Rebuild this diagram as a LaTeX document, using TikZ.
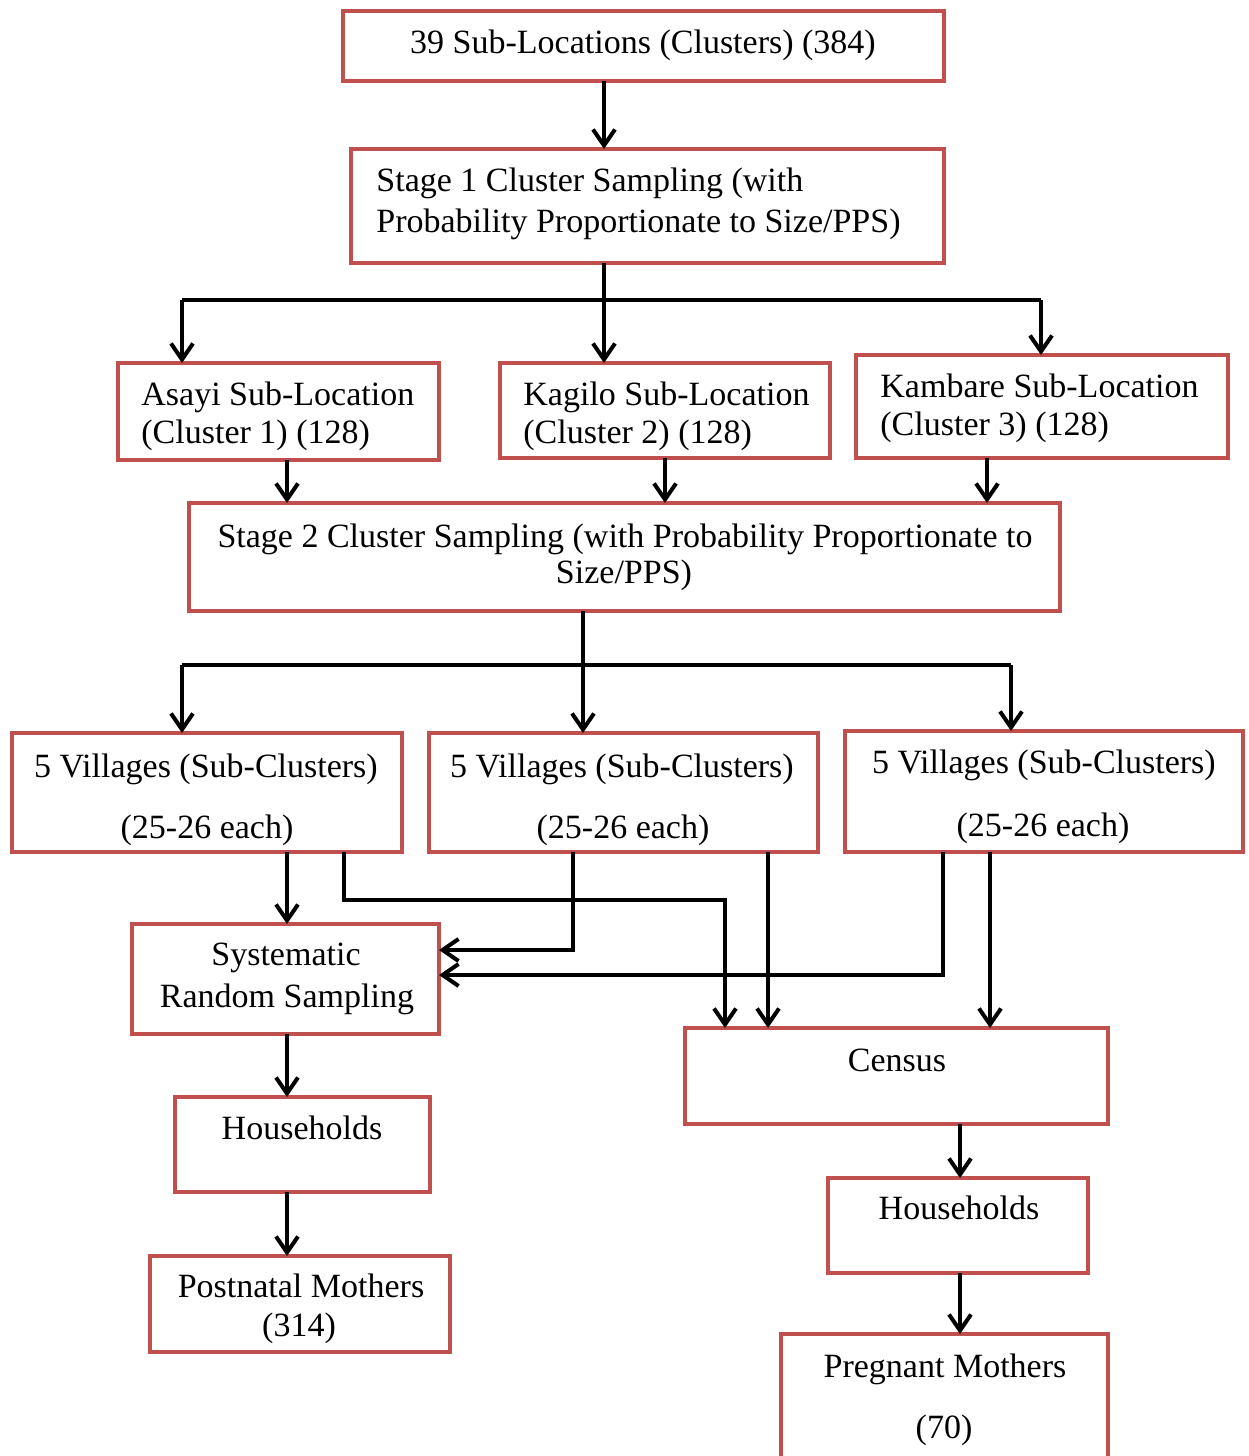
\documentclass[tikz,border=0pt]{standalone}
\usepackage{fontspec}
\setmainfont{Liberation Serif}
\usetikzlibrary{arrows.meta,fit}
\definecolor{bred}{RGB}{192,80,77}
\begin{document}
\begin{tikzpicture}[x=0.5pt,y=-0.5pt,
 box/.style={draw=bred,line width=2pt,inner sep=0pt,outer sep=0pt,fill=white},
 txt/.style={font=\fontsize{17}{20}\selectfont,inner sep=0pt,anchor=base},
 txtl/.style={txt,anchor=base west},
 arr/.style={line width=1.8pt,-{Straight Barb[length=8pt,width=11pt,line width=2pt]}},
 ln/.style={line width=1.8pt},
 bar/.style={line width=2.4pt}]
\useasboundingbox (0,0) rectangle (1248,1456);
% boxes
\node[box, fit={(343,11)(944,81)}] (b1) {};
\node[box, fit={(351,149)(944,263)}] (s1) {};
\node[box, fit={(118,363)(439,460)}] (asayi) {};
\node[box, fit={(500,363)(830,458)}] (kagilo) {};
\node[box, fit={(856,355)(1228,458)}] (kambare) {};
\node[box, fit={(189,503)(1060,611)}] (s2) {};
\node[box, fit={(12,733)(402,852)}] (v1) {};
\node[box, fit={(429,733)(818,852)}] (v2) {};
\node[box, fit={(845,731)(1243,852)}] (v3) {};
\node[box, fit={(132,924)(439,1034)}] (sys) {};
\node[box, fit={(685,1028)(1108,1124)}] (census) {};
\node[box, fit={(175,1097)(430,1192)}] (hhl) {};
\node[box, fit={(150,1256)(450,1352)}] (post) {};
\node[box, fit={(828,1178)(1088,1273)}] (hhr) {};
\node[box, fit={(781,1334)(1108,1462)}] (preg) {};
% texts
\node[txt] (t1) at (643,53) {39 Sub-Locations (Clusters) (384)};
\node[txtl] (t2a) at (376,191) {Stage 1 Cluster Sampling (with};
\node[txtl] (t2b) at (376,232) {Probability Proportionate to Size/PPS)};
\node[txtl] (t3a) at (141,405) {Asayi Sub-Location};
\node[txtl] (t3b) at (141,443) {(Cluster 1) (128)};
\node[txtl] (t4a) at (523,405) {Kagilo Sub-Location};
\node[txtl] (t4b) at (523,443) {(Cluster 2) (128)};
\node[txtl] (t5a) at (880,397) {Kambare Sub-Location};
\node[txtl] (t5b) at (880,435) {(Cluster 3) (128)};
\node[txt] (t6a) at (625,547) {Stage 2 Cluster Sampling (with Probability Proportionate to};
\node[txt] (t6b) at (624,583) {Size/PPS)};
\node[txt] (t7a) at (206,777) {5 Villages (Sub-Clusters)};
\node[txt] (t7b) at (207,838) {(25-26 each)};
\node[txt] (t8a) at (622,777) {5 Villages (Sub-Clusters)};
\node[txt] (t8b) at (623,838) {(25-26 each)};
\node[txt] (t9a) at (1044,773) {5 Villages (Sub-Clusters)};
\node[txt] (t9b) at (1043,836) {(25-26 each)};
\node[txt] (t10a) at (286,965) {Systematic};
\node[txt] (t10b) at (287,1007) {Random Sampling};
\node[txt] (t11) at (897,1071) {Census};
\node[txt] (t12) at (302,1139) {Households};
\node[txt] (t13a) at (301,1297) {Postnatal Mothers};
\node[txt] (t13b) at (299,1336) {(314)};
\node[txt] (t14) at (959,1219) {Households};
\node[txt] (t15a) at (945,1377) {Pregnant Mothers};
\node[txt] (t15b) at (944,1438) {(70)};
% junction coordinates
\coordinate (j1) at (604,300);
\coordinate (j1l) at (182,300);
\coordinate (j1r) at (1041,300);
\coordinate (j2) at (583,665);
\coordinate (j2l) at (182,665);
\coordinate (j2r) at (1011,665);
% connectors
\draw[arr] (604,0 |- b1.south) -- (604,0 |- s1.north);
\draw[bar] (j1l) -- (j1r);
\draw[arr] (j1 |- s1.south) -- (j1 |- kagilo.north);
\draw[arr] (j1l) -- (j1l |- asayi.north);
\draw[arr] (j1r) -- (j1r |- kambare.north);
\draw[arr] (287,0 |- asayi.south) -- (287,0 |- s2.north);
\draw[arr] (665,0 |- kagilo.south) -- (665,0 |- s2.north);
\draw[arr] (987,0 |- kambare.south) -- (987,0 |- s2.north);
\draw[bar] (j2l) -- (j2r);
\draw[arr] (j2 |- s2.south) -- (j2 |- v2.north);
\draw[arr] (j2l) -- (j2l |- v1.north);
\draw[arr] (j2r) -- (j2r |- v3.north);
\draw[arr] (287,0 |- v1.south) -- (287,0 |- sys.north);
\draw[arr] (344,0 |- v1.south) -- (344,900) -- (725,900) -- (725,0 |- census.north);
\draw[arr] (573,0 |- v2.south) -- (573,950) -- (sys.east |- 0,950);
\draw[arr] (768,0 |- v2.south) -- (768,0 |- census.north);
\draw[arr] (943,0 |- v3.south) -- (943,975) -- (sys.east |- 0,975);
\draw[arr] (990,0 |- v3.south) -- (990,0 |- census.north);
\draw[arr] (287,0 |- sys.south) -- (287,0 |- hhl.north);
\draw[arr] (287,0 |- hhl.south) -- (287,0 |- post.north);
\draw[arr] (960,0 |- census.south) -- (960,0 |- hhr.north);
\draw[arr] (960,0 |- hhr.south) -- (960,0 |- preg.north);
\end{tikzpicture}
\end{document}
